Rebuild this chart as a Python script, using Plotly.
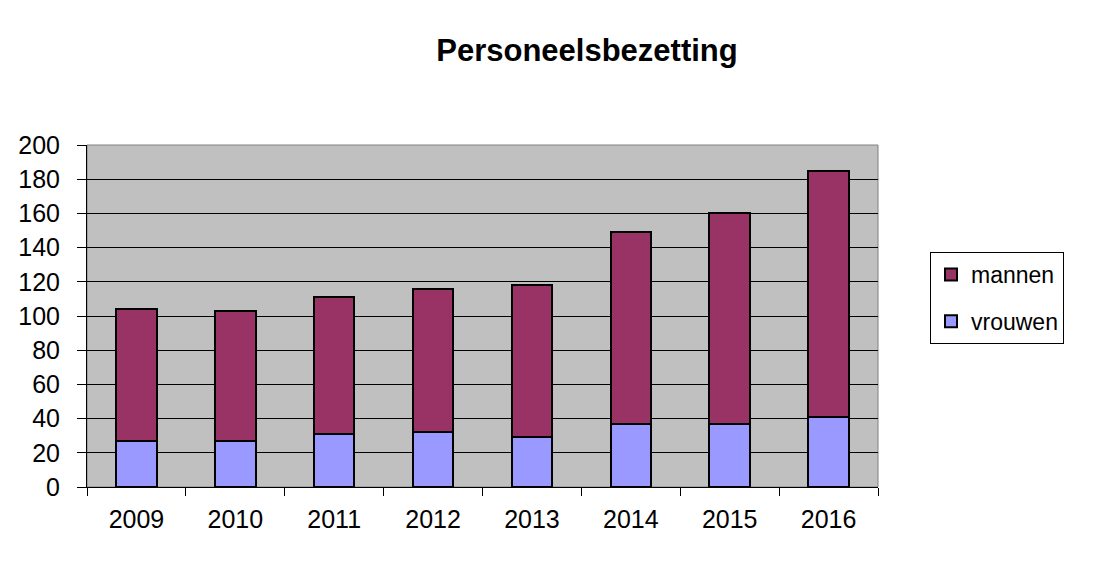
import plotly.graph_objects as go

years = ["2009", "2010", "2011", "2012", "2013", "2014", "2015", "2016"]
vrouwen = [27, 27, 31, 32, 29, 37, 37, 41]
mannen = [77, 76, 80, 84, 89, 112, 123, 144]
title = "Personeelsbezetting"

OFF = 8  # default page body margin
W, H = 1105 - 2 * OFF, 580 - 2 * OFF
L, R, T, B = 87, 878, 145, 487  # target plot area in window pixels

fig = go.Figure()
fig.add_trace(go.Bar(x=years, y=vrouwen, name="vrouwen", legendgroup="v", legendrank=2,
                     marker=dict(color="#9999FF", line=dict(color="black", width=2))))
fig.add_trace(go.Bar(x=years, y=mannen, name="mannen", legendgroup="m", legendrank=1,
                     marker=dict(color="#993366", line=dict(color="black", width=2))))

fnt = "Liberation Sans, Arial, sans-serif"
fig.update_layout(
    width=W, height=H,
    barmode="stack", bargap=0.59,
    paper_bgcolor="white", plot_bgcolor="#C0C0C0",
    margin=dict(l=L - OFF, r=(W + OFF) - R, t=T - OFF, b=(H + OFF) - B, pad=0),
    font=dict(family=fnt, color="black", size=24),
    title=dict(text="<b>" + title + "</b>", x=(587 - OFF) / W, xref="container", xanchor="center",
               y=1 - (50 - OFF) / H, yref="container", yanchor="middle",
               font=dict(family=fnt, size=31, color="black")),
    legend=dict(x=(930 - L) / (R - L), xanchor="left", y=(B - 252) / (B - T), yanchor="top",
                traceorder="grouped", tracegroupgap=14,
                bordercolor="black", borderwidth=1, bgcolor="white",
                font=dict(family=fnt, size=23, color="black"),
                itemwidth=30),
    showlegend=True,
)
fig.update_xaxes(showline=True, linecolor="black", linewidth=1, automargin=False,
                 ticks="outside", ticklen=8, tickcolor="black", tickson="boundaries",
                 ticklabelstandoff=10,
                 showgrid=False, tickfont=dict(size=25), fixedrange=True)
fig.update_yaxes(range=[0, 200], dtick=20, showline=True, linecolor="black", linewidth=1,
                 automargin=False,
                 ticks="outside", ticklen=9, tickcolor="black", ticklabelstandoff=12,
                 showgrid=True, gridcolor="black", gridwidth=1,
                 tickfont=dict(size=25), zeroline=False, fixedrange=True)
fig.add_shape(type="rect", xref="paper", yref="paper", x0=0, x1=1, y0=0, y1=1,
              line=dict(color="#808080", width=1), layer="below")
fig.write_html("out.html")
